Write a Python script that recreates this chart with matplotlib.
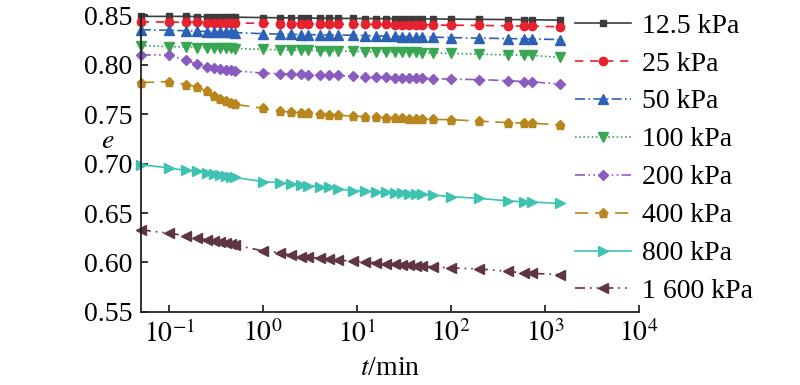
import numpy as np
import matplotlib
matplotlib.use('Agg')
import matplotlib.pyplot as plt

plt.rcParams['font.family'] = 'Liberation Serif'
plt.rcParams['mathtext.fontset'] = 'stix'

# time (min)
t = [0.05, 0.1, 0.15, 0.2, 0.25, 0.3, 0.35, 0.4, 0.45, 0.5,
     1, 1.5, 2, 2.5, 3, 4, 5, 6.25, 9, 12.25, 16, 20.25, 25, 30.25,
     36, 42.25, 49, 64, 100, 200, 400, 600, 720, 1440]

labels = ['12.5 kPa', '25 kPa', '50 kPa', '100 kPa', '200 kPa',
          '400 kPa', '800 kPa', '1 600 kPa']

e_12_5 = [0.849, 0.849, 0.849, 0.8488, 0.8487, 0.8486, 0.8485, 0.8484, 0.8483, 0.8482,
          0.8478, 0.8476, 0.8475, 0.8474, 0.8473, 0.8472, 0.8471, 0.847, 0.8469, 0.8468,
          0.8467, 0.8467, 0.8466, 0.8466, 0.8465, 0.8465, 0.8465, 0.8464, 0.8462, 0.846,
          0.8458, 0.8457, 0.8456, 0.8452]
e_25 = [0.8435, 0.8433, 0.8431, 0.843, 0.8428, 0.8427, 0.8426, 0.8425, 0.8424, 0.8423,
        0.842, 0.8418, 0.8417, 0.8416, 0.8415, 0.8414, 0.8413, 0.8412, 0.8411, 0.841,
        0.8409, 0.8408, 0.8407, 0.8406, 0.8405, 0.8405, 0.8404, 0.8403, 0.8401, 0.8398,
        0.8395, 0.8392, 0.8391, 0.8385]
e_50 = [0.8355, 0.835, 0.8345, 0.834, 0.8337, 0.8334, 0.8331, 0.8329, 0.8327, 0.8326,
        0.8315, 0.8311, 0.8308, 0.8306, 0.8305, 0.8303, 0.8302, 0.8301, 0.83, 0.8295,
        0.8292, 0.829, 0.8288, 0.8286, 0.8285, 0.8284, 0.8283, 0.828, 0.8275, 0.827,
        0.8265, 0.8263, 0.8262, 0.8255]
e_100 = [0.8195, 0.8185, 0.818, 0.8175, 0.8172, 0.817, 0.8168, 0.8167, 0.8166, 0.8165,
         0.8155, 0.8152, 0.815, 0.8148, 0.8146, 0.8143, 0.8141, 0.8139, 0.8135, 0.8133,
         0.8132, 0.8131, 0.813, 0.8128, 0.8127, 0.8125, 0.8124, 0.812, 0.8115, 0.8108,
         0.81, 0.8097, 0.8095, 0.8075]
e_200 = [0.810, 0.810, 0.8045, 0.8005, 0.798, 0.7965, 0.7955, 0.795, 0.7945, 0.794,
         0.7915, 0.791, 0.7905, 0.7902, 0.79, 0.7897, 0.7895, 0.7892, 0.7885, 0.788,
         0.7877, 0.7874, 0.787, 0.7868, 0.7866, 0.7864, 0.7862, 0.786, 0.7855, 0.785,
         0.784, 0.783, 0.7828, 0.7805]
e_400 = [0.782, 0.783, 0.780, 0.778, 0.773, 0.768, 0.765, 0.763, 0.761, 0.760,
         0.756, 0.753, 0.752, 0.7515, 0.751, 0.750, 0.7495, 0.749, 0.748, 0.7475,
         0.747, 0.7465, 0.746, 0.7458, 0.7455, 0.7452, 0.745, 0.7447, 0.7445, 0.743,
         0.7415, 0.741, 0.741, 0.739]
e_800 = [0.699, 0.6956, 0.6931, 0.6921, 0.6905, 0.6897, 0.6887, 0.6877, 0.6867, 0.686,
         0.6818, 0.6808, 0.6795, 0.6784, 0.6777, 0.6767, 0.676, 0.6743, 0.6728, 0.6722,
         0.6716, 0.6712, 0.6706, 0.670, 0.6697, 0.6693, 0.669, 0.6683, 0.6665, 0.6648,
         0.6623, 0.6613, 0.6611, 0.6597]
e_1600 = [0.633, 0.6295, 0.6271, 0.6247, 0.623, 0.622, 0.621, 0.620, 0.6186, 0.6176,
          0.6117, 0.610, 0.6073, 0.6059, 0.6056, 0.6042, 0.6032, 0.6022, 0.6014, 0.6004,
          0.5997, 0.5987, 0.598, 0.5975, 0.597, 0.5965, 0.5962, 0.5955, 0.5944, 0.5934,
          0.591, 0.5893, 0.589, 0.5877]

series = [e_12_5, e_25, e_50, e_100, e_200, e_400, e_800, e_1600]
colors = ['#3c3c3c', '#e8212e', '#2c62b6', '#38a653', '#8b5cc0',
          '#b8861c', '#3ec2b2', '#5e3540']
markers = ['s', 'o', '^', 'v', 'D', 'p', '>', '<']
msizes = [5, 6, 6.5, 6.5, 5.5, 6.5, 6.5, 6.5]
styles = ['-', (0, (5, 4)), (0, (6, 2, 1, 2)), (0, (1, 1.5)),
          (0, (6, 2, 1, 2, 1, 2)), (0, (8, 4)), '-', (0, (6, 3, 1, 3, 1, 3))]

fig = plt.figure(figsize=(8, 3.85), dpi=100)
ax = fig.add_axes([0.176, 0.19, 0.623, 0.77])

for y, c, m, ms, ls, lab in zip(series, colors, markers, msizes, styles, labels):
    ax.plot(t, y, color=c, marker=m, markersize=ms, linestyle=ls,
            linewidth=1.2, label=lab, clip_on=False)

ax.set_xscale('log')
ax.set_xlim(0.05, 1e4)
ax.set_ylim(0.55, 0.85)
ax.set_yticks([0.55, 0.60, 0.65, 0.70, 0.75, 0.80, 0.85])
ax.set_yticklabels(['0.55', '0.60', '0.65', '0.70', '0.75', '0.80', '0.85'])
ax.set_xticks([0.1, 1, 10, 100, 1000, 10000])
ax.set_xticklabels([r'$10^{-1}$', r'$10^{0}$', r'$10^{1}$', r'$10^{2}$',
                    r'$10^{3}$', r'$10^{4}$'])

ax.spines['top'].set_visible(False)
ax.spines['right'].set_visible(False)
for s in ['left', 'bottom']:
    ax.spines[s].set_linewidth(1.3)
    ax.spines[s].set_color('#222222')
ax.tick_params(axis='both', which='major', direction='in', length=5, width=1.1,
               labelsize=20, pad=6)
ax.tick_params(axis='x', which='minor', direction='in', length=3, width=0.9)
ax.tick_params(axis='y', which='minor', left=False)

ax.set_xlabel(r'$t$/min', fontsize=20, labelpad=6)
ax.set_ylabel(r'$e$', fontsize=20, rotation=0, ha='center', va='center')
ax.yaxis.set_label_coords(-0.066, 0.576)

leg = ax.legend(loc='upper left', bbox_to_anchor=(0.702, 1.002), bbox_transform=fig.transFigure,
                frameon=False, fontsize=20, handlelength=2.0, handletextpad=0.4,
                labelspacing=0.45, borderpad=0, numpoints=1)

fig.savefig('out.png', dpi=100)
